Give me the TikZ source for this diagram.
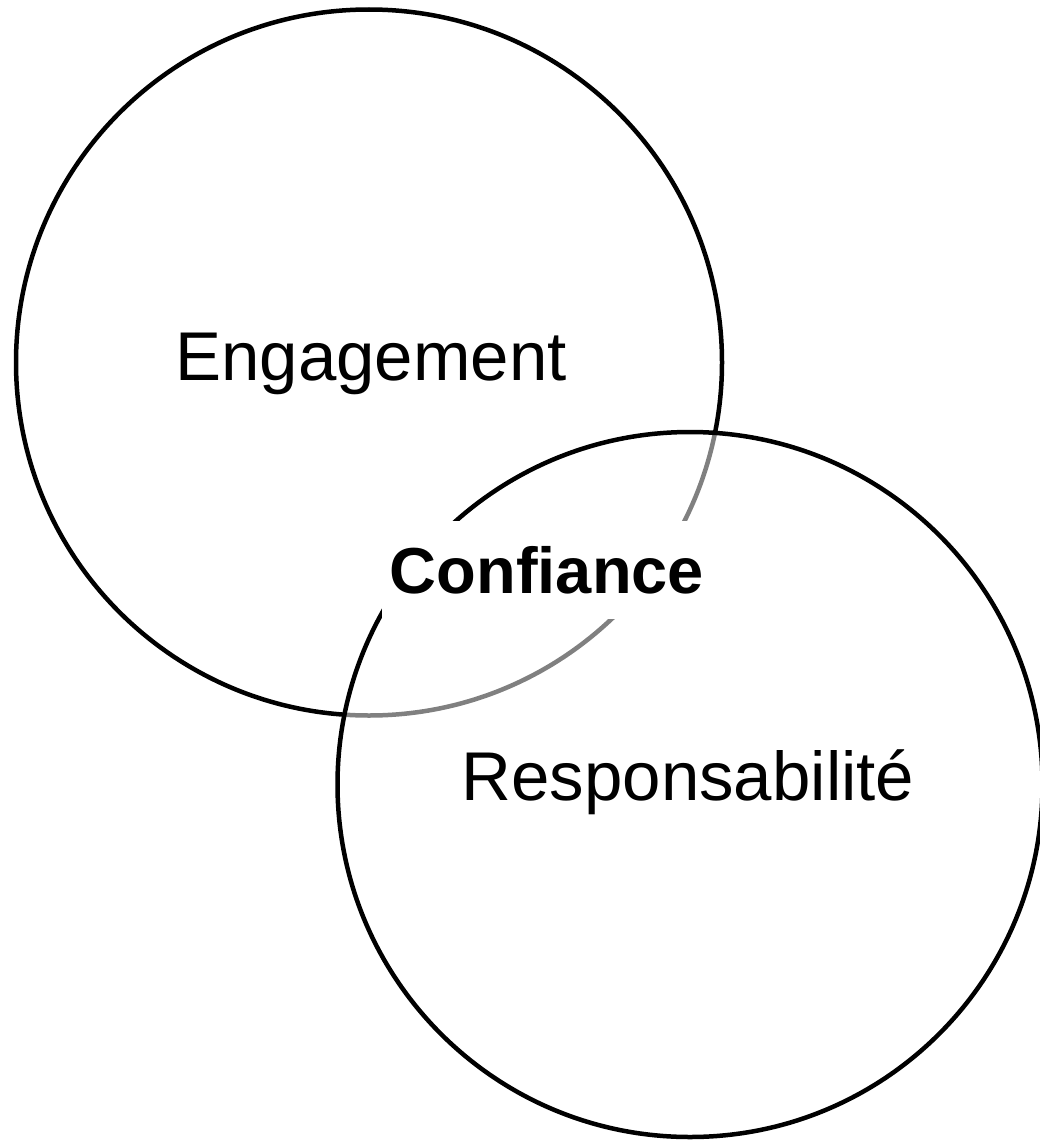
\documentclass[tikz,border=0pt]{standalone}
\usepackage{fontspec}
\setmainfont{Liberation Sans}
\usetikzlibrary{positioning}
\tikzset{
    ring/.style={black,line width=4.5pt},
    veiled ring/.style={ring,fill=white,fill opacity=.5},
    big text/.style={font=\fontsize{69}{82}\selectfont},
    core text/.style={font=\fontsize{65}{78}\selectfont\bfseries,fill=white,inner sep=0pt,minimum width=330pt,minimum height=98pt},
}
\tikzstyle{every node}=[text=black]
\begin{document}
\begin{tikzpicture}[x=1pt,y=-1pt]
    \useasboundingbox (0,0) rectangle (1039,1140);

    \coordinate (E) at (369,362.5);
    \coordinate (R) at (690,784.5);

    \draw[ring] (E) circle[radius=353pt];
    \draw[veiled ring] (R) circle[radius=352.5pt];

    \node[big text, anchor=base] (engagement) at (371,380) {Engagement};
    \node[big text, anchor=base] (responsabilite) at (688,800) {Responsabilité};
    \node[core text] (confiance) at (547,570) {Confiance};
\end{tikzpicture}
\end{document}
